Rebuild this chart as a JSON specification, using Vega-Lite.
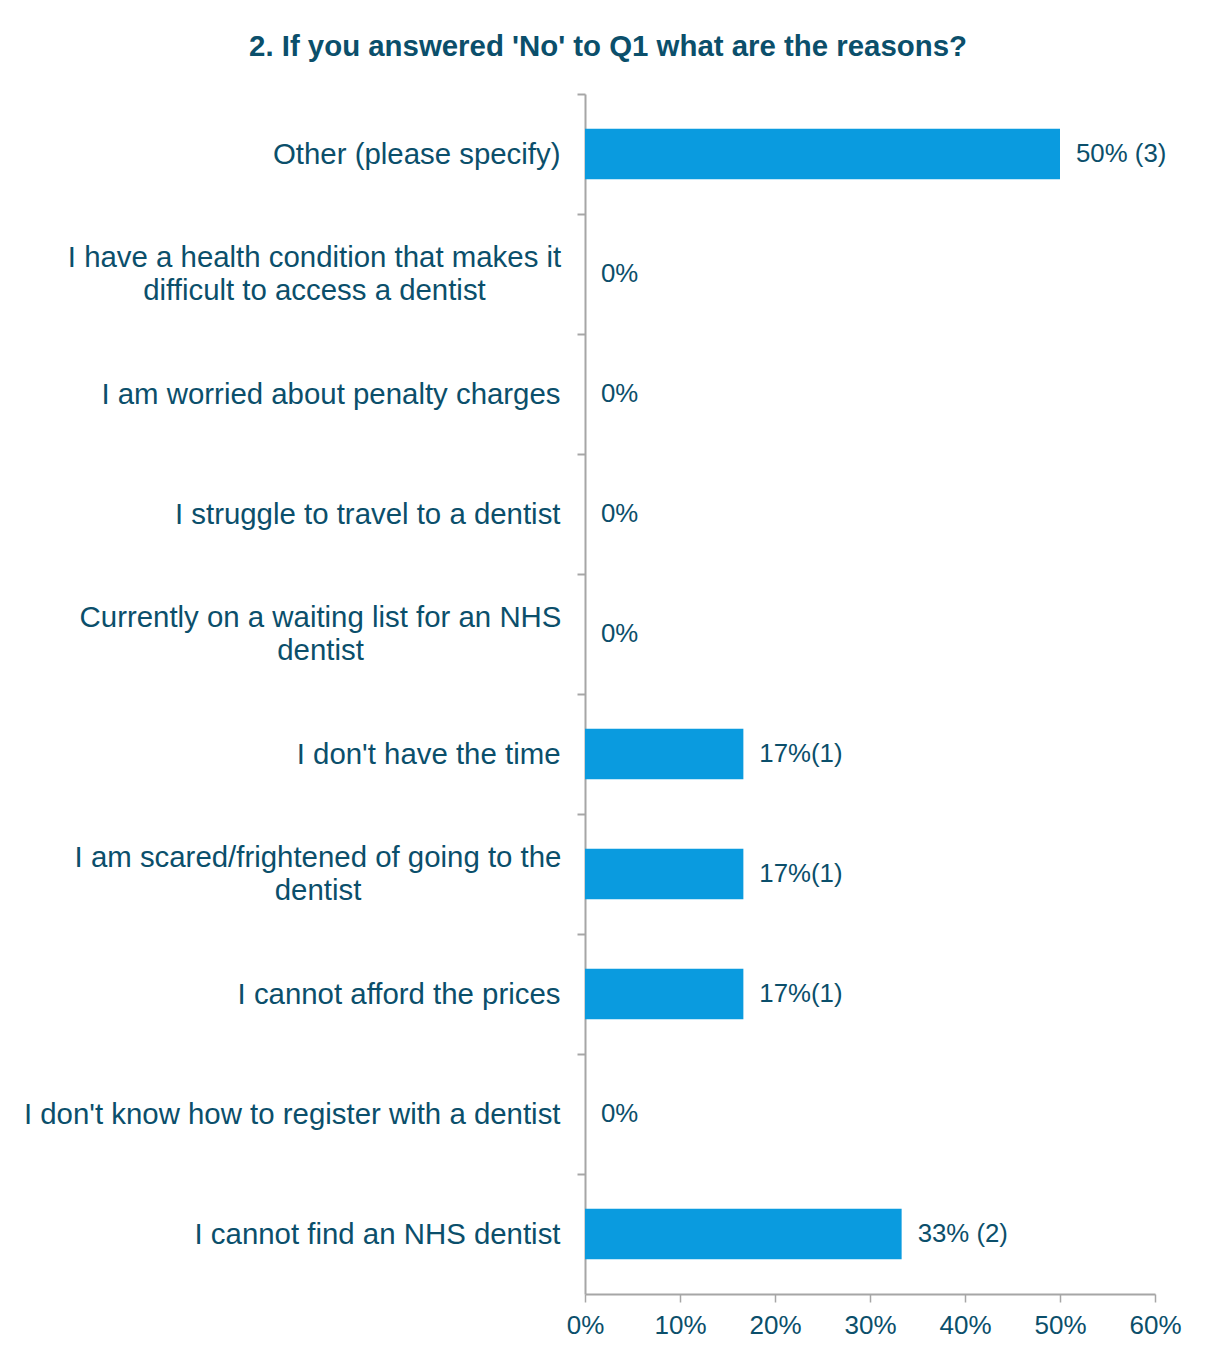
{
  "$schema": "https://vega.github.io/schema/vega-lite/v6.json",
  "autosize": "none",
  "width": 570,
  "height": 1200,
  "padding": {"left": 585, "top": 94, "right": 50, "bottom": 58},
  "background": "white",
  "title": {
    "text": "2. If you answered 'No' to Q1 what are the reasons?",
    "anchor": "middle",
    "frame": "group",
    "dx": -262,
    "offset": 8,
    "baseline": "alphabetic",
    "font": "Liberation Sans",
    "fontSize": 29.4,
    "fontWeight": "bold",
    "color": "#0B4F6B"
  },
  "config": {
    "view": {"stroke": null},
    "font": "Liberation Sans"
  },
  "data": {
    "values": [
      {"reason": "Other (please specify)", "share": 0.50, "label": "50% (3)"},
      {"reason": "I have a health condition that makes it difficult to access a dentist", "share": 0, "label": "0%"},
      {"reason": "I am worried about penalty charges", "share": 0, "label": "0%"},
      {"reason": "I struggle to travel to a dentist", "share": 0, "label": "0%"},
      {"reason": "Currently on a waiting list for an NHS dentist", "share": 0, "label": "0%"},
      {"reason": "I don't have the time", "share": 0.1667, "label": "17%(1)"},
      {"reason": "I am scared/frightened of going to the dentist", "share": 0.1667, "label": "17%(1)"},
      {"reason": "I cannot afford the prices", "share": 0.1667, "label": "17%(1)"},
      {"reason": "I don't know how to register with a dentist", "share": 0, "label": "0%"},
      {"reason": "I cannot find an NHS dentist", "share": 0.3333, "label": "33% (2)"}
    ]
  },
  "encoding": {
    "y": {
      "field": "reason",
      "type": "nominal",
      "sort": null,
      "scale": {"paddingInner": 0.58, "paddingOuter": 0.29},
      "axis": {
        "title": null,
        "tickOffset": -60,
        "domainColor": "#A6A6A6",
        "domainWidth": 2,
        "tickColor": "#A6A6A6",
        "tickWidth": 2,
        "tickSize": 8,
        "labelLimit": 800,
        "labelFontSize": 29.4,
        "labelColor": "#0B4F6B",
        "labelLineHeight": 33,
        "labelExpr": "datum.value === 'I have a health condition that makes it difficult to access a dentist' ? ['I have a health condition that makes it', 'difficult to access a dentist'] : datum.value === 'Currently on a waiting list for an NHS dentist' ? ['Currently on a waiting list for an NHS', 'dentist'] : datum.value === 'I am scared/frightened of going to the dentist' ? ['I am scared/frightened of going to the', 'dentist'] : datum.value",
        "labelAlign": {
          "condition": {"test": "datum.value === 'I have a health condition that makes it difficult to access a dentist' || datum.value === 'Currently on a waiting list for an NHS dentist' || datum.value === 'I am scared/frightened of going to the dentist'", "value": "center"},
          "value": "right"
        },
        "labelOffset": {
          "condition": {"test": "datum.value === 'I have a health condition that makes it difficult to access a dentist' || datum.value === 'Currently on a waiting list for an NHS dentist' || datum.value === 'I am scared/frightened of going to the dentist'", "value": 43.5},
          "value": 60
        },
        "labelPadding": {
          "condition": [
            {"test": "datum.value === 'I have a health condition that makes it difficult to access a dentist'", "value": 263},
            {"test": "datum.value === 'Currently on a waiting list for an NHS dentist'", "value": 257},
            {"test": "datum.value === 'I am scared/frightened of going to the dentist'", "value": 259.5}
          ],
          "value": 17
        }
      }
    },
    "x": {
      "field": "share",
      "type": "quantitative",
      "scale": {"domain": [0, 0.6], "nice": false},
      "axis": {
        "title": null,
        "values": [0, 0.1, 0.2, 0.3, 0.4, 0.5, 0.6],
        "format": ".0%",
        "grid": false,
        "domainColor": "#A6A6A6",
        "domainWidth": 2,
        "tickColor": "#A6A6A6",
        "tickWidth": 1.5,
        "tickSize": 8,
        "labelPadding": 10,
        "labelFontSize": 26,
        "labelColor": "#0B4F6B",
        "labelFlush": false,
        "labelOverlap": false
      }
    }
  },
  "layer": [
    {
      "mark": {"type": "bar", "color": "#0A9BDF", "cornerRadius": 0}
    },
    {
      "mark": {
        "type": "text",
        "align": "left",
        "baseline": "middle",
        "dx": 16,
        "fontSize": 25.8,
        "color": "#0B4F6B"
      },
      "encoding": {"text": {"field": "label", "type": "nominal"}}
    }
  ]
}
